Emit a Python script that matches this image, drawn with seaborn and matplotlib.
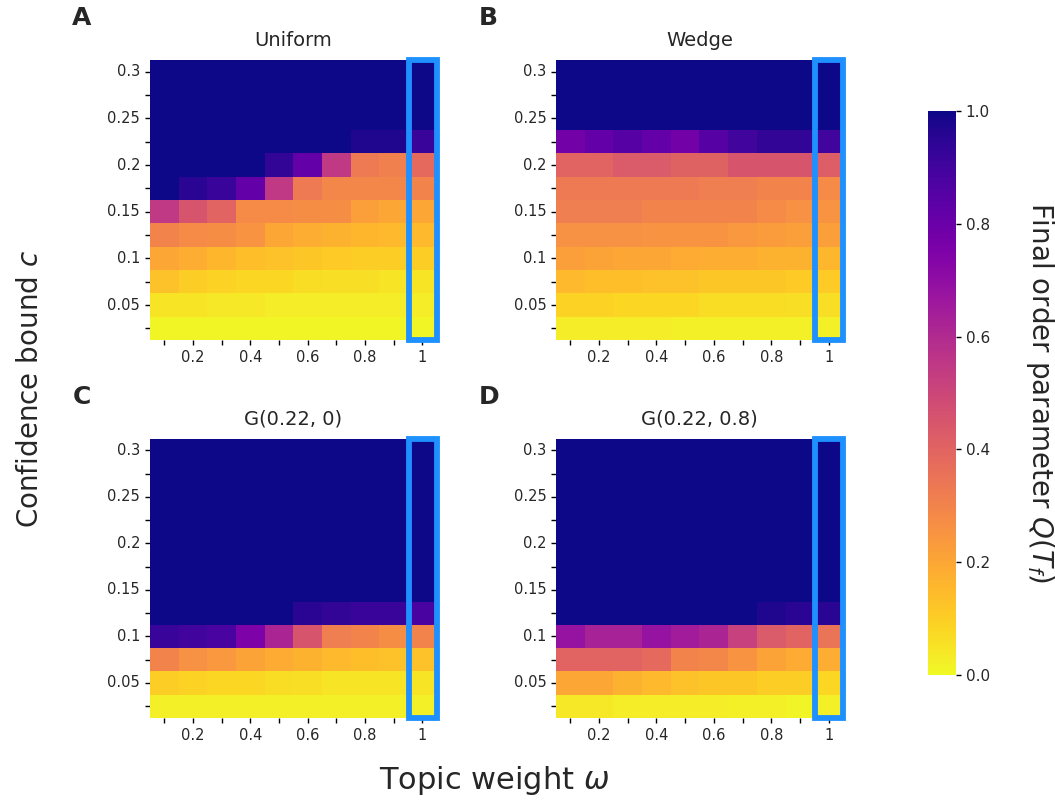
import numpy as np
import pandas as pd
import matplotlib
matplotlib.use("Agg")
import matplotlib.pyplot as plt
from matplotlib.patches import Rectangle
import seaborn as sns

# axes values
omega = [0.1, 0.2, 0.3, 0.4, 0.5, 0.6, 0.7, 0.8, 0.9, 1.0]
conf = [0.3, 0.275, 0.25, 0.225, 0.2, 0.175, 0.15, 0.125, 0.1, 0.075, 0.05, 0.025]

# final order parameter Q(T_f), rows = conf (top->bottom), cols = omega
uniform = [
    [1, 1, 1, 1, 1, 1, 1, 1, 1, 1],
    [1, 1, 1, 1, 1, 1, 1, 1, 1, 1],
    [1, 1, 1, 1, 1, 1, 1, 1, 1, 1],
    [1, 1, 1, 1, 1, 1, 1, 0.97, 0.97, 0.92],
    [1, 1, 1, 1, 0.93, 0.82, 0.55, 0.33, 0.31, 0.38],
    [1, 0.95, 0.92, 0.82, 0.55, 0.33, 0.29, 0.29, 0.29, 0.3],
    [0.55, 0.45, 0.4, 0.28, 0.28, 0.27, 0.27, 0.22, 0.2, 0.2],
    [0.3, 0.28, 0.27, 0.25, 0.2, 0.18, 0.17, 0.16, 0.15, 0.15],
    [0.2, 0.18, 0.16, 0.14, 0.13, 0.12, 0.11, 0.1, 0.1, 0.1],
    [0.13, 0.1, 0.09, 0.08, 0.08, 0.07, 0.06, 0.06, 0.05, 0.05],
    [0.05, 0.05, 0.04, 0.04, 0.03, 0.03, 0.03, 0.03, 0.03, 0.03],
    [0.01, 0.01, 0.01, 0.01, 0.01, 0.01, 0.01, 0.01, 0.01, 0.01],
]
wedge = [
    [1, 1, 1, 1, 1, 1, 1, 1, 1, 1],
    [1, 1, 1, 1, 1, 1, 1, 1, 1, 1],
    [1, 1, 1, 1, 1, 1, 1, 1, 1, 1],
    [0.78, 0.82, 0.85, 0.82, 0.78, 0.85, 0.9, 0.93, 0.93, 0.9],
    [0.4, 0.4, 0.43, 0.43, 0.41, 0.41, 0.45, 0.45, 0.45, 0.42],
    [0.33, 0.33, 0.33, 0.33, 0.33, 0.32, 0.32, 0.3, 0.3, 0.28],
    [0.32, 0.32, 0.32, 0.3, 0.3, 0.3, 0.3, 0.28, 0.26, 0.25],
    [0.26, 0.26, 0.26, 0.25, 0.25, 0.25, 0.24, 0.23, 0.22, 0.22],
    [0.22, 0.21, 0.2, 0.2, 0.19, 0.18, 0.18, 0.17, 0.17, 0.16],
    [0.15, 0.14, 0.14, 0.13, 0.13, 0.12, 0.12, 0.12, 0.11, 0.11],
    [0.09, 0.09, 0.08, 0.08, 0.08, 0.07, 0.07, 0.07, 0.06, 0.06],
    [0.03, 0.03, 0.03, 0.03, 0.02, 0.02, 0.02, 0.02, 0.02, 0.02],
]
g_022_0 = [
    [1, 1, 1, 1, 1, 1, 1, 1, 1, 1],
    [1, 1, 1, 1, 1, 1, 1, 1, 1, 1],
    [1, 1, 1, 1, 1, 1, 1, 1, 1, 1],
    [1, 1, 1, 1, 1, 1, 1, 1, 1, 1],
    [1, 1, 1, 1, 1, 1, 1, 1, 1, 1],
    [1, 1, 1, 1, 1, 1, 1, 1, 1, 1],
    [1, 1, 1, 1, 1, 1, 1, 1, 1, 1],
    [1, 1, 1, 1, 1, 0.95, 0.93, 0.92, 0.92, 0.88],
    [0.92, 0.9, 0.88, 0.75, 0.62, 0.45, 0.32, 0.3, 0.27, 0.3],
    [0.3, 0.26, 0.24, 0.21, 0.19, 0.17, 0.15, 0.14, 0.13, 0.13],
    [0.1, 0.09, 0.08, 0.08, 0.07, 0.06, 0.05, 0.05, 0.05, 0.05],
    [0.02, 0.02, 0.02, 0.02, 0.02, 0.02, 0.02, 0.02, 0.02, 0.02],
]
g_022_08 = [
    [1, 1, 1, 1, 1, 1, 1, 1, 1, 1],
    [1, 1, 1, 1, 1, 1, 1, 1, 1, 1],
    [1, 1, 1, 1, 1, 1, 1, 1, 1, 1],
    [1, 1, 1, 1, 1, 1, 1, 1, 1, 1],
    [1, 1, 1, 1, 1, 1, 1, 1, 1, 1],
    [1, 1, 1, 1, 1, 1, 1, 1, 1, 1],
    [1, 1, 1, 1, 1, 1, 1, 1, 1, 1],
    [1, 1, 1, 1, 1, 1, 1, 0.97, 0.95, 0.95],
    [0.68, 0.63, 0.63, 0.68, 0.65, 0.62, 0.52, 0.43, 0.4, 0.35],
    [0.4, 0.4, 0.4, 0.38, 0.3, 0.29, 0.25, 0.21, 0.19, 0.18],
    [0.2, 0.2, 0.17, 0.15, 0.13, 0.12, 0.12, 0.1, 0.1, 0.08],
    [0.04, 0.04, 0.03, 0.03, 0.03, 0.03, 0.02, 0.02, 0.01, 0.02],
]

titles = ["Uniform", "Wedge", "G(0.22, 0)", "G(0.22, 0.8)"]
letters = ["A", "B", "C", "D"]
panels = [uniform, wedge, g_022_0, g_022_08]

sns.set_style("white")
plt.rcParams['font.family'] = ['DejaVu Sans']

fig = plt.figure(figsize=(10.55, 8.02), dpi=100)
# axes boxes [left, bottom, width, height]
boxes = [
    [0.142, 0.576, 0.272, 0.349],
    [0.527, 0.576, 0.272, 0.349],
    [0.142, 0.105, 0.272, 0.348],
    [0.527, 0.105, 0.272, 0.348],
]
cax = fig.add_axes([0.880, 0.158, 0.026, 0.704])

for i, (vals, title, letter, box) in enumerate(zip(panels, titles, letters, boxes)):
    ax = fig.add_axes(box)
    df = pd.DataFrame(vals, index=conf, columns=omega)
    sns.heatmap(df, ax=ax, cmap="plasma_r", vmin=0, vmax=1,
                cbar=(i == 0), cbar_ax=cax if i == 0 else None)
    ax.set_xticks(np.arange(len(omega)) + 0.5)
    ax.set_xticklabels(["{:g}".format(w) if k % 2 == 1 else "" for k, w in enumerate(omega)],
                       rotation=0, fontsize=10.5)
    ax.set_yticks(np.arange(len(conf)) + 0.5)
    ax.set_yticklabels(["{:g}".format(c) if k % 2 == 0 else "" for k, c in enumerate(conf)],
                       rotation=0, fontsize=10.5)
    ax.tick_params(axis='both', length=3.5, width=1, color='black', left=True, bottom=True)
    ax.set_xlabel("")
    ax.set_ylabel("")
    ax.set_title(title, fontsize=14, pad=10)
    # highlight the omega = 1 column
    ax.add_patch(Rectangle((len(omega) - 1 + 0.03, 0.0), 0.97, len(conf),
                           fill=False, edgecolor='#1E90FF', lw=4.2, clip_on=False, zorder=5))
    ax.text(-0.27, 1.15, letter, transform=ax.transAxes, fontsize=18,
            fontweight='bold', va='center', ha='left')

cax.tick_params(labelsize=11, length=3.5, width=1, color='black', right=True)
cax.set_yticks([0, 0.2, 0.4, 0.6, 0.8, 1.0])
cax.set_yticklabels(["0.0", "0.2", "0.4", "0.6", "0.8", "1.0"])
cax.set_ylabel(r"Final order parameter $Q(T_f)$", fontsize=20, rotation=270, labelpad=48)

fig.text(0.028, 0.515, r"Confidence bound $c$", fontsize=20, rotation=90, va='center', ha='center')
fig.text(0.468, 0.027, r"Topic weight $\omega$", fontsize=22, va='center', ha='center')

fig.savefig("out.png", dpi=100)
